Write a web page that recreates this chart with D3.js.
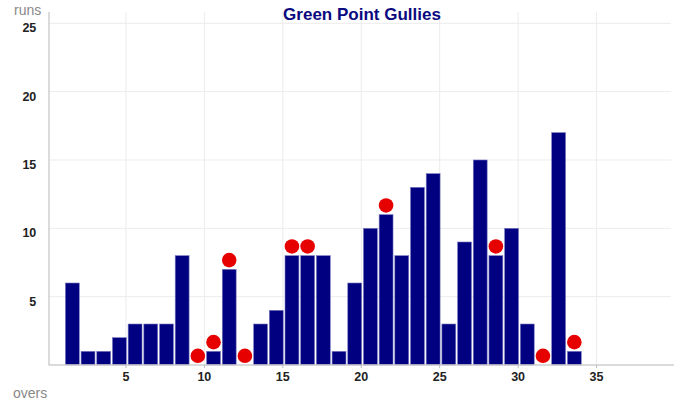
<!DOCTYPE html>
<html>
<head>
<meta charset="utf-8">
<script src="https://cdn.jsdelivr.net/npm/d3@7"></script>
<style>
  html, body { margin: 0; padding: 0; background: #fff; }
  svg { display: block; }
</style>
</head>
<body>
<svg id="chart" width="682" height="408"></svg>
<script>
const title = "Green Point Gullies";
const overs = [1,2,3,4,5,6,7,8,9,10,11,12,13,14,15,16,17,18,19,20,21,22,23,24,25,26,27,28,29,30,31,32,33];
const runs  = [6,1,1,2,3,3,3,8,0,1,7,0,3,4,8,8,8,1,6,10,11,8,13,14,3,9,15,8,10,3,0,17,1];
const wicketOvers = [9,10,11,12,15,16,21,28,31,33];
const xTicks = [5,10,15,20,25,30,35];
const yTicks = [5,10,15,20,25];

(function () {
const svg = d3.select("#chart");
const plotLeft = 47.5, plotRight = 675, plotTop = 23.3, plotBottom = 365;

const x = d3.scaleLinear().domain([0, 40]).range([plotLeft, plotRight]);
const y = d3.scaleLinear().domain([0, 25]).range([plotBottom, plotTop]);

// grid
const grid = svg.append("g");
grid.selectAll("line.v").data(xTicks).enter().append("line")
  .attr("x1", d => x(d)).attr("x2", d => x(d))
  .attr("y1", 12).attr("y2", plotBottom)
  .attr("stroke", "#ececec").attr("stroke-width", 1);
grid.selectAll("line.h").data(yTicks).enter().append("line")
  .attr("x1", 49).attr("x2", 671)
  .attr("y1", d => y(d)).attr("y2", d => y(d))
  .attr("stroke", "#ececec").attr("stroke-width", 1);

// bars
const barData = overs.map((o, i) => ({ over: o, runs: runs[i] })).filter(d => d.runs > 0);
svg.append("g").selectAll("rect").data(barData).enter().append("rect")
  .attr("x", d => x(d.over) + 2.2)
  .attr("width", d => x(d.over + 1) - x(d.over) - 1.8)
  .attr("y", d => y(d.runs))
  .attr("height", d => y(0) - y(d.runs))
  .attr("fill", "#000080")
  .attr("stroke", "#7a7ac0")
  .attr("stroke-width", 0.6);

// axes lines
const ax = svg.append("g");
ax.append("line").attr("x1", 49).attr("x2", 49).attr("y1", 12).attr("y2", plotBottom)
  .attr("stroke", "#cfcfcf").attr("stroke-width", 1.5);
ax.append("line").attr("x1", 48.5).attr("x2", 674).attr("y1", plotBottom).attr("y2", plotBottom)
  .attr("stroke", "#cfcfcf").attr("stroke-width", 1.5);
ax.selectAll("line.t").data(xTicks).enter().append("line")
  .attr("x1", d => x(d)).attr("x2", d => x(d))
  .attr("y1", plotBottom).attr("y2", plotBottom + 3)
  .attr("stroke", "#bbb").attr("stroke-width", 1);

// wicket dots
const r = 7.3;
const dots = wicketOvers.map(o => ({ over: o, runs: runs[overs.indexOf(o)] }));
svg.append("g").selectAll("circle").data(dots).enter().append("circle")
  .attr("cx", d => x(d.over) + 2.2 + (x(d.over + 1) - x(d.over) - 1.8) / 2)
  .attr("cy", d => y(d.runs) - r - 1.9)
  .attr("r", r)
  .attr("fill", "#e60000");

// tick labels
svg.append("g").selectAll("text").data(yTicks).enter().append("text")
  .attr("x", 36.3).attr("y", d => y(d) + 9)
  .attr("text-anchor", "end")
  .attr("font-family", "Liberation Sans, Arial, sans-serif")
  .attr("font-weight", "bold").attr("font-size", 12.5).attr("fill", "#222")
  .text(d => d);
svg.append("g").selectAll("text").data(xTicks).enter().append("text")
  .attr("x", d => x(d)).attr("y", 380.5)
  .attr("text-anchor", "middle")
  .attr("font-family", "Liberation Sans, Arial, sans-serif")
  .attr("font-weight", "bold").attr("font-size", 12.5).attr("fill", "#222")
  .text(d => d);

// axis titles
svg.append("text").attr("x", 14).attr("y", 15)
  .attr("font-family", "Liberation Sans, Arial, sans-serif")
  .attr("font-size", 14).attr("fill", "#888").text("runs");
svg.append("text").attr("x", 13).attr("y", 398)
  .attr("font-family", "Liberation Sans, Arial, sans-serif")
  .attr("font-size", 14).attr("fill", "#888").text("overs");

// title
svg.append("text").attr("x", 362).attr("y", 19.5)
  .attr("text-anchor", "middle")
  .attr("font-family", "Liberation Sans, Arial, sans-serif")
  .attr("font-weight", "bold").attr("font-size", 17).attr("fill", "#0a0a80")
  .text(title);
})();
</script>
</body>
</html>
